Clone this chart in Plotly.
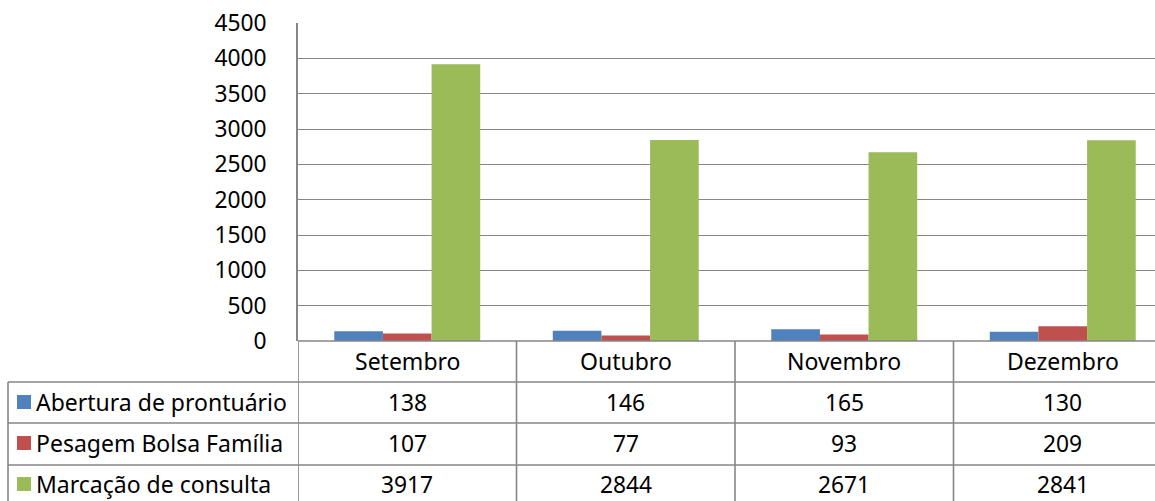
import plotly.graph_objects as go

months = ["Setembro", "Outubro", "Novembro", "Dezembro"]
series_names = ["Abertura de prontuário", "Pesagem Bolsa Família", "Marcação de consulta"]
abertura = [138, 146, 165, 130]
pesagem = [107, 77, 93, 209]
marcacao = [3917, 2844, 2671, 2841]
colors = ["#4F81BD", "#C0504D", "#9BBB59"]
y_ticks = [0, 500, 1000, 1500, 2000, 2500, 3000, 3500, 4000, 4500]

values = [abertura, pesagem, marcacao]
FONT = "Noto Sans"
FS_NUM = 22.8
FS_TXT = 23
GRID = "#868686"

W, H = 1155, 501
L, R, T, B = 298, 0, 23, 160
plot_w = W - L - R
plot_h = H - T - B
col_px = 218.5

def py(p):  # pixel y -> paper y
    return (H - B - p) / plot_h

def px(p):  # pixel x -> paper x
    return (p - L) / plot_w

fig = go.Figure()
xs = list(range(len(months)))
for name, vals, c in zip(series_names, values, colors):
    fig.add_trace(go.Bar(x=xs, y=vals, name=name, marker_color=c,
                         marker_line_width=0, showlegend=False))

x_max = -0.5 + plot_w / col_px

fig.update_layout(
    width=W, height=H,
    margin=dict(l=L, r=R, t=T, b=B, pad=0),
    paper_bgcolor="white", plot_bgcolor="white",
    barmode="group", bargap=0.332, bargroupgap=0,
    font=dict(family=FONT, size=FS_NUM, color="black"),
    xaxis=dict(range=[-0.5, x_max], showticklabels=False, showgrid=False,
               zeroline=False, showline=False, fixedrange=True),
    yaxis=dict(range=[0, 4500], tickvals=y_ticks, ticktext=[str(v) for v in y_ticks],
               showgrid=True, gridcolor=GRID, gridwidth=1.4,
               zeroline=False, showline=True, linecolor=GRID, linewidth=1.6,
               ticks="", ticklabelstandoff=25, fixedrange=True,
               tickfont=dict(family=FONT, size=FS_NUM, color="black")),
)

shapes = []
line = dict(color=GRID, width=1.6)
shapes.append(dict(type="line", xref="paper", yref="paper", x0=0, x1=1, y0=0, y1=0, line=line))
row_lines = [382, 423, 465]
for rl in row_lines:
    shapes.append(dict(type="line", xref="paper", yref="paper", x0=px(8), x1=1,
                       y0=py(rl), y1=py(rl), line=line))
for i in range(len(months)):
    shapes.append(dict(type="line", xref="x", yref="paper", x0=i - 0.5, x1=i - 0.5,
                       y0=0, y1=py(H + 2), line=line))
shapes.append(dict(type="line", xref="paper", yref="paper", x0=px(8), x1=px(8),
                   y0=py(382), y1=py(H + 2), line=line))

annotations = []
header_y = py(361)
for i, m in enumerate(months):
    annotations.append(dict(x=i, y=header_y, xref="x", yref="paper", text=m,
                            showarrow=False, xanchor="center", yanchor="middle",
                            font=dict(family=FONT, size=FS_TXT, color="black")))
row_centers = [402, 443, 484]
for r, (name, vals, c) in enumerate(zip(series_names, values, colors)):
    yc = py(row_centers[r])
    for i, v in enumerate(vals):
        annotations.append(dict(x=i, y=yc, xref="x", yref="paper", text=str(v),
                                showarrow=False, xanchor="center", yanchor="middle",
                                font=dict(family=FONT, size=FS_NUM, color="black")))
    annotations.append(dict(x=px(34), y=yc, xref="paper", yref="paper", text=name,
                            showarrow=False, xanchor="left", yanchor="middle",
                            font=dict(family=FONT, size=FS_TXT, color="black")))
    shapes.append(dict(type="rect", xref="paper", yref="paper",
                       x0=px(17), x1=px(31), y0=py(row_centers[r] + 7), y1=py(row_centers[r] - 7),
                       fillcolor=c, line=dict(width=0)))

fig.update_layout(shapes=shapes, annotations=annotations)
fig.write_html("out.html", config={"displayModeBar": False},
               post_script="document.body.style.margin='0';document.body.style.overflow='hidden';")
